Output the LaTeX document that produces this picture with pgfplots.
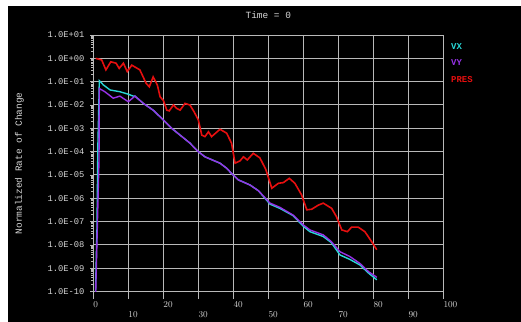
\documentclass[border=0pt]{standalone}
\usepackage{fontspec}
\setmainfont{Liberation Mono}
\usepackage{pgfplots}
\pgfplotsset{compat=1.18}
\definecolor{vx}{RGB}{40,215,215}
\definecolor{vy}{RGB}{150,50,230}
\definecolor{pres}{RGB}{230,15,15}
\definecolor{gridc}{RGB}{185,185,185}
\definecolor{txt}{RGB}{215,215,215}
\begin{document}
\begin{tikzpicture}
\path[use as bounding box, fill=white] (-93.3bp,-30.4bp) rectangle (427.7bp,291.6bp);
\fill[black] (-85.3bp,-30.4bp) rectangle (427.7bp,285.6bp);
\begin{axis}[
  scale only axis, width=350bp, height=256.6bp,
  xmin=0, xmax=100, ymode=log, ymin=1e-10, ymax=10,
  xtick={0,20,...,100},
  extra x ticks={10,30,...,90},
  extra x tick style={grid=major, xticklabel style={yshift=-10bp}},
  ytick={1e-10,1e-9,1e-8,1e-7,1e-6,1e-5,1e-4,1e-3,1e-2,1e-1,1,10},
  yticklabels={1.0E-10,1.0E-09,1.0E-08,1.0E-07,1.0E-06,1.0E-05,1.0E-04,1.0E-03,1.0E-02,1.0E-01,1.0E+00,1.0E+01},
  grid=major,
  major grid style={draw=gridc, line width=1pt},
  axis line style={draw=gridc, line width=1pt},
  tick align=outside, tick pos=left,
  tick style={draw=gridc, line width=0.8pt},
  xtick style={/pgfplots/major tick length=7bp},
  ytick style={/pgfplots/major tick length=3bp, /pgfplots/minor tick length=2bp},
  xticklabel style={anchor=north west, inner sep=0pt, yshift=-6bp, text=txt, font=\fontsize{8.8}{10}\selectfont},
  yticklabel style={anchor=east, inner sep=0pt, xshift=-4.5bp, text=txt, font=\fontsize{8.8}{10}\selectfont},
  every axis y label/.style={at={(rel axis cs:0,0.5)}, xshift=-73.8bp, rotate=90, anchor=center, text=txt, font=\fontsize{9.5}{11}\selectfont},
  ylabel={Normalized Rate of Change},
  every axis title/.style={at={(rel axis cs:0.5,1)}, anchor=center, yshift=19.5bp, text=txt, font=\fontsize{9.5}{11}\selectfont},
  title={Time = 0},
  legend image code/.code={},
  legend style={at={(rel axis cs:1,1)}, anchor=north west, xshift=7.7bp, yshift=-8bp, draw=none, fill=none,
    font=\bfseries\fontsize{9}{10}\selectfont, row sep=10.7bp, inner sep=0pt,
    nodes={inner sep=0pt, text height=6bp, text depth=0bp}},
  legend cell align=left,
]
\addplot[vx, line width=1.4bp] coordinates {
(0.55,3e-11) (1.05,5e-8) (1.3,1.6e-4) (1.6,0.014) (1.72,0.11)
(2.9,0.072) (4.8,0.044) (7.6,0.037) (10.0,0.029) (11.4,0.024) (11.9,0.024)
(14.3,0.0117) (17.1,0.0060) (20.0,0.0023) (22.4,1.0e-3) (24.8,5.1e-4)
(27.5,2.4e-4) (30.0,1.0e-4) (31.9,6.0e-5) (34.0,4.4e-5) (36.2,3.2e-5)
(38.0,2.0e-5) (39.5,1.17e-5) (41.4,6.2e-6) (44.8,3.7e-6) (47.2,2.1e-6)
(50.5,5.6e-7) (53.3,3.7e-7) (57.1,1.8e-7) (60.0,6.3e-8) (61.9,3.7e-8)
(65.7,2.3e-8) (68.0,1.26e-8) (70.5,3.7e-9) (73.3,2.4e-9) (76.2,1.38e-9)
(78.6,6.3e-10) (81.0,3.2e-10)
};
\addlegendentry{\textcolor{vx}{VX}}
\addplot[vy, line width=1.4bp] coordinates {
(0.61,3.2e-11) (1.63,4.4e-5) (1.72,0.051)
(3.3,0.037) (5.7,0.0195) (7.6,0.024) (10.0,0.0138) (11.9,0.024)
(14.3,0.0117) (17.1,0.0060) (20.0,0.0023) (22.4,1.0e-3) (24.8,5.1e-4)
(27.5,2.4e-4) (30.0,1.0e-4) (31.9,6.0e-5) (34.0,4.4e-5) (36.2,3.2e-5)
(38.0,2.0e-5) (39.5,1.17e-5) (41.4,6.2e-6) (44.8,3.7e-6) (47.2,2.1e-6)
(50.5,6.2e-7) (53.3,4.1e-7) (57.1,1.9e-7) (60.0,7.2e-8) (61.9,4.4e-8)
(65.7,2.7e-8) (68.0,1.4e-8) (70.5,5.1e-9) (73.3,3.2e-9) (76.2,1.6e-9)
(78.6,7.2e-10) (81.0,4.1e-10)
};
\addlegendentry{\textcolor{vy}{VY}}
\addplot[pres, line width=1.6bp] coordinates {
(0.7,1.0) (2.4,0.85) (3.6,0.32) (5.0,0.71) (6.5,0.62) (7.4,0.37) (8.6,0.62)
(9.7,0.27) (11.0,0.51) (13.3,0.32) (15.1,0.085) (16.0,0.060) (17.1,0.16)
(18.3,0.072) (19.1,0.022) (20.0,0.016) (21.0,0.0060) (21.7,0.0056)
(22.9,0.010) (23.8,0.0072) (24.8,0.0060) (26.2,0.0117) (27.6,0.010)
(28.8,0.0051) (30.0,0.0023) (31.0,5.1e-4) (31.9,4.4e-4) (32.9,7.1e-4)
(33.8,4.4e-4) (36.2,9.1e-4) (38.1,6.2e-4) (39.5,2.3e-4) (40.5,3.2e-5)
(41.9,4.0e-5) (42.9,6.0e-5) (44.0,4.4e-5) (45.7,8.5e-5) (47.6,5.4e-5)
(49.3,1.7e-5) (51.0,2.7e-6) (52.9,4.4e-6) (54.3,4.7e-6) (56.0,7.2e-6)
(57.6,4.4e-6) (59.5,1.4e-6) (61.0,3.2e-7) (62.4,3.4e-7) (64.3,5.1e-7)
(65.7,6.2e-7) (68.1,3.7e-7) (69.5,1.6e-7) (71.0,4.4e-8) (72.6,3.7e-8)
(73.8,5.8e-8) (75.7,5.8e-8) (77.6,3.7e-8) (79.5,1.4e-8) (81.0,6.2e-9)
};
\addlegendentry{\textcolor{pres}{PRES}}
\end{axis}
\end{tikzpicture}
\end{document}
